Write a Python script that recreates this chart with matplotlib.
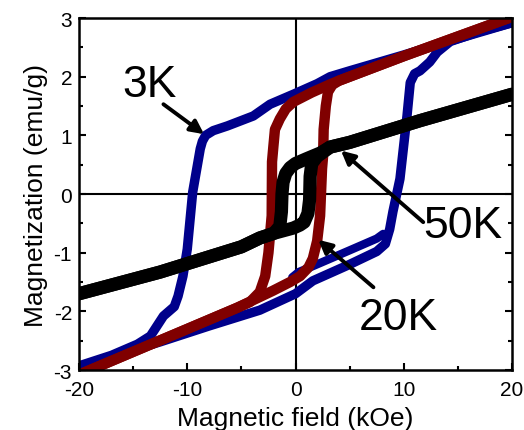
import matplotlib.pyplot as plt
import numpy as np

plt.rcParams['font.family'] = ['Liberation Sans', 'DejaVu Sans']
plt.rcParams['axes.unicode_minus'] = False

# 3K loop
H3_down = [20, 14.3, 10, 5, 3.2, 2.0, -0.2, -2.35, -3.9, -6.3, -7.6, -8.3, -8.6, -8.8, -9.5, -10.0, -10.4, -10.85, -11.2, -12.2, -12.8, -13.4, -14.6, -17, -20]
M3_down = [2.92, 2.61, 2.37, 2.1, 2.0, 1.88, 1.7, 1.53, 1.33, 1.16, 1.08, 1.0, 0.9, 0.77, 0.03, -0.94, -1.4, -1.74, -1.92, -2.08, -2.25, -2.42, -2.56, -2.75, -2.93]
H3_up = [-20, -15, -12.5, -8, -3.3, 0, 1.6, 5, 7.5, 8.3, 8.7, 9.0, 9.65, 10.3, 10.6, 11.0, 11.5, 12.4, 13.1, 14.3, 17, 20]
M3_up = [-2.95, -2.66, -2.52, -2.25, -1.98, -1.7, -1.48, -1.2, -0.98, -0.85, -0.6, -0.3, 0.26, 1.33, 1.9, 2.05, 2.1, 2.25, 2.42, 2.6, 2.77, 2.92]
H3_first = [-0.3, 0.3, 1.6, 5, 7.5, 8.1]
M3_first = [-1.42, -1.33, -1.23, -0.96, -0.76, -0.68]

# 20K loop
H20_down = [20, 10, 4, 3.2, 1.5, -0.2, -0.9, -1.45, -1.9, -2.05, -2.17, -2.2, -2.5, -2.8, -3.3, -4.2, -5.4, -10, -20]
M20_down = [3.02, 2.35, 1.93, 1.87, 1.73, 1.57, 1.45, 1.28, 1.1, 0.8, 0.55, -0.37, -1.0, -1.4, -1.67, -1.84, -1.94, -2.3, -3.08]
H20_up = [-20, -10, -5.4, -2.1, -0.5, 0.42, 1.2, 1.6, 2.0, 2.27, 2.45, 2.55, 2.6, 2.8, 3.0, 3.4, 4, 10, 20]
M20_up = [-3.08, -2.3, -1.94, -1.65, -1.5, -1.4, -1.25, -1.1, -0.8, -0.37, 0.43, 0.65, 1.1, 1.5, 1.74, 1.86, 1.93, 2.35, 3.02]

# 50K loop
H50_down = [20, 11.5, 5, 3.2, 2.3, 1, 0, -0.5, -0.9, -1.15, -1.25, -1.3, -1.45, -2.0, -3.3, -5, -12.5, -20]
M50_down = [1.7, 1.25, 0.88, 0.8, 0.7, 0.6, 0.52, 0.45, 0.35, 0.2, 0.0, -0.3, -0.55, -0.67, -0.75, -0.9, -1.33, -1.7]
H50_up = [-20, -12.5, -5, -3.3, -2, -0.2, 0.4, 0.8, 1.15, 1.3, 1.35, 1.5, 2.0, 3.2, 5, 11.5, 20]
M50_up = [-1.7, -1.33, -0.9, -0.75, -0.67, -0.58, -0.53, -0.48, -0.33, -0.1, 0.3, 0.52, 0.64, 0.8, 0.88, 1.25, 1.7]

fig = plt.figure(figsize=(5.24, 4.31), dpi=100)
ax = fig.add_axes([0.1508, 0.1392, 0.8263, 0.8167])

ax.axhline(0, color='k', lw=1.5, zorder=1)
ax.axvline(0, color='k', lw=1.5, zorder=1)

blue = '#00008b'
red = '#800000'
kw = dict(solid_capstyle='round', solid_joinstyle='round')
ax.plot(H3_down, M3_down, color=blue, lw=6.8, **kw)
ax.plot(H3_first, M3_first, color=blue, lw=6, **kw)
ax.plot(H3_up, M3_up, color=blue, lw=6.8, **kw)
ax.plot(H20_down, M20_down, color=red, lw=7.5, **kw)
ax.plot(H20_up, M20_up, color=red, lw=7.5, **kw)
ax.plot(H50_down, M50_down, color='k', lw=9.5, **kw)
ax.plot(H50_up, M50_up, color='k', lw=9.5, **kw)

# labels with arrows
arr = dict(arrowstyle='-|>', lw=2.8, color='k', mutation_scale=20, shrinkA=0, shrinkB=0)
ax.annotate('', xy=(-8.45, 1.02), xytext=(-12.2, 1.53), arrowprops=arr)
ax.annotate('', xy=(4.2, 0.74), xytext=(11.8, -0.48), arrowprops=arr)
ax.annotate('', xy=(2.1, -0.78), xytext=(7.2, -1.59), arrowprops=arr)
ax.text(-13.5, 1.86, '3K', fontsize=32, ha='center', va='center')
ax.text(15.5, -0.53, '50K', fontsize=32, ha='center', va='center')
ax.text(9.5, -2.1, '20K', fontsize=32, ha='center', va='center')

ax.set_xlim(-20, 20)
ax.set_ylim(-3, 3)
ax.set_xticks([-20, -10, 0, 10, 20])
ax.set_xticks([-15, -5, 5, 15], minor=True)
ax.set_yticks([-3, -2, -1, 0, 1, 2, 3])
ax.set_yticks(np.arange(-2.5, 3, 1), minor=True)
ax.tick_params(which='both', direction='in', right=True, width=1.5, labelsize=15)
ax.tick_params(axis='x', pad=7)
ax.tick_params(axis='y', pad=5)
ax.tick_params(which='major', length=5)
ax.tick_params(which='minor', length=3)
for s in ax.spines.values():
    s.set_linewidth(1.8)

ax.set_xlabel('Magnetic field (kOe)', fontsize=19, labelpad=5)
ax.set_ylabel('Magnetization (emu/g)', fontsize=19, labelpad=4)

plt.savefig('out.png', dpi=100)
